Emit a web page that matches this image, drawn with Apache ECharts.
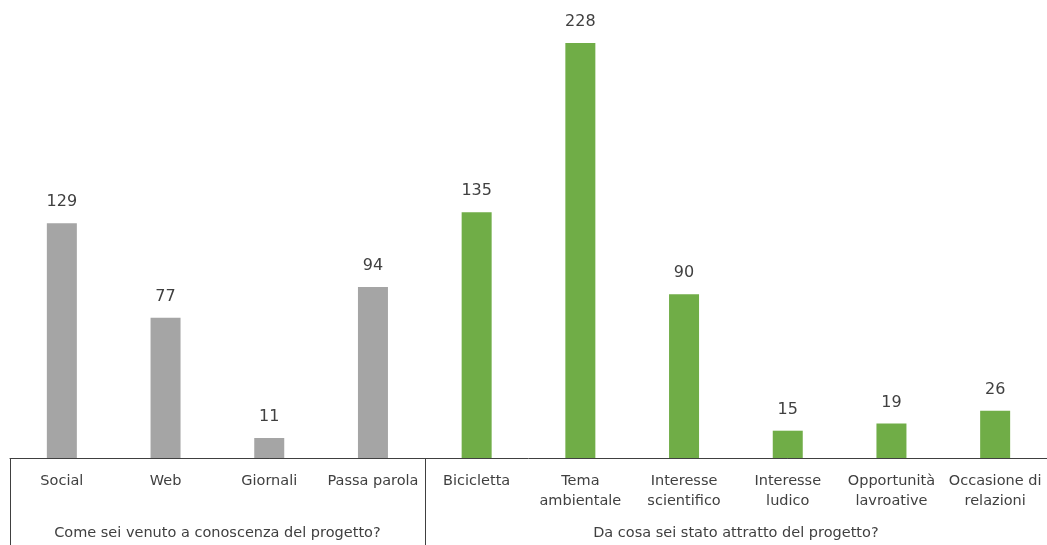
<!DOCTYPE html>
<html><head><meta charset="utf-8">
<script src="https://cdn.jsdelivr.net/npm/echarts@6/dist/echarts.min.js"></script>
<style>html,body{margin:0;padding:0;background:#fff}#c{width:1047px;height:545px}</style>
</head><body><div id="c"></div>
<script>
const categories = ['Social','Web','Giornali','Passa parola','Bicicletta','Tema\nambientale','Interesse\nscientifico','Interesse\nludico','Opportunità\nlavroative','Occasione di\nrelazioni'];
const values = [129, 77, 11, 94, 135, 228, 90, 15, 19, 26];
const groupNames = ['Come sei venuto a conoscenza del progetto?', 'Da cosa sei stato attratto del progetto?'];
const groupSizes = [4, 6];
const groupColors = ['#a5a5a5', '#70ad47'];

const groupOf = [];
groupSizes.forEach((n, g) => { for (let i = 0; i < n; i++) groupOf.push(g); });
const bounds = [0];
groupSizes.forEach(n => bounds.push(bounds[bounds.length - 1] + n));
const centers = groupSizes.map((n, g) => bounds[g] + n / 2);

const font = 'DejaVu Sans';
const chart = echarts.init(document.getElementById('c'));
chart.setOption({
  animation: false,
  grid: { left: 10, right: 0, top: 3, bottom: 87, containLabel: false },
  xAxis: [{
    type: 'category', data: categories,
    axisLine: { lineStyle: { color: '#404040', width: 1 } },
    axisTick: { show: false },
    axisLabel: { interval: 0, margin: 13, color: '#404040', fontFamily: font, fontSize: 14.5, lineHeight: 20 }
  }, {
    type: 'value', min: 0, max: bounds[bounds.length - 1], position: 'bottom',
    axisLine: { show: false }, splitLine: { show: false },
    axisTick: { show: true, customValues: bounds, length: 87, inside: false, lineStyle: { color: '#404040', width: 1 } },
    axisLabel: { customValues: centers, margin: 68, color: '#404040', fontFamily: font, fontSize: 14.5,
      formatter: v => { const i = centers.indexOf(v); return i >= 0 ? groupNames[i] : ''; } }
  }],
  yAxis: { type: 'value', min: 0, max: 250, show: false, splitLine: { show: false } },
  series: [{
    type: 'bar', xAxisIndex: 0, barWidth: 30,
    data: values.map((v, i) => ({ value: v, itemStyle: { color: groupColors[groupOf[i]] } })),
    label: { show: true, position: 'top', distance: 13, color: '#404040', fontFamily: font, fontSize: 16 }
  }]
});
</script></body></html>
